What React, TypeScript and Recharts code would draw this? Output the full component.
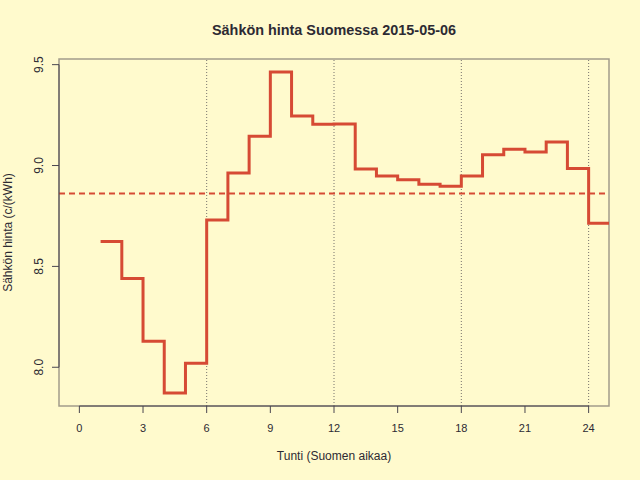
import { LineChart, Line, XAxis, YAxis, ReferenceLine, ReferenceArea } from 'recharts'

const hours = [1, 2, 3, 4, 5, 6, 7, 8, 9, 10, 11, 12, 13, 14, 15, 16, 17, 18, 19, 20, 21, 22, 23, 24]
const prices = [
  8.623, 8.44, 8.129, 7.872, 8.02, 8.73, 8.963, 9.145, 9.464, 9.246, 9.204, 9.206,
  8.983, 8.948, 8.93, 8.907, 8.897, 8.948, 9.054, 9.081, 9.067, 9.117, 8.985, 8.714,
]
const xTicks = [0, 3, 6, 9, 12, 15, 18, 21, 24]
const yTicks = [8, 8.5, 9, 9.5]
const markHours = [6, 12, 18, 24]

const xDomain: [number, number] = [-0.96, 24.96]
const yDomain: [number, number] = [7.808, 9.528]

const FONT = '"Liberation Sans", Arial, sans-serif'
const BG = '#fffacd'
const LINE = '#d64a34'
const INK = '#2d2a33'
const AXIS = '#4a4650'
const BOX = '#a39c8b'

// step line: last hour is carried to the right edge
const data = [
  ...hours.map((h, i) => ({ hour: h, price: prices[i] })),
  { hour: 25, price: prices[prices.length - 1] },
]
const meanPrice = prices.reduce((a, b) => a + b, 0) / prices.length

function YTick({ y, payload }: any) {
  return (
    <text
      transform={`translate(43, ${y}) rotate(-90)`}
      textAnchor="middle"
      fontSize={12}
      fontFamily={FONT}
      fill={INK}
    >
      {payload.value.toFixed(1)}
    </text>
  )
}

export default function App() {
  return (
    <div style={{ position: 'absolute', left: 0, top: 0, width: 640, height: 480, background: BG }}>
      <LineChart
        width={640}
        height={480}
        data={data}
        margin={{ top: 59, right: 31, bottom: 44, left: 0 }}
      >
        <ReferenceArea
          x1={xDomain[0]}
          x2={xDomain[1]}
          y1={yDomain[0]}
          y2={yDomain[1]}
          fill="none"
          stroke={BOX}
          strokeWidth={1.5}
          ifOverflow="visible"
        />
        <XAxis
          dataKey="hour"
          type="number"
          domain={xDomain}
          allowDataOverflow
          ticks={xTicks}
          interval={0}
          tickSize={7}
          tickMargin={11}
          height={30}
          axisLine={false}
          tickLine={{ stroke: AXIS }}
          tick={{ fontSize: 11, fontFamily: FONT, fill: INK }}
        />
        <YAxis
          type="number"
          domain={yDomain}
          allowDataOverflow
          ticks={yTicks}
          interval={0}
          tickSize={7}
          width={59}
          axisLine={false}
          tickLine={{ stroke: AXIS }}
          tick={<YTick />}
        />
        {markHours.map((h) => (
          <ReferenceLine key={h} x={h} stroke="#77726c" strokeDasharray="1 2" />
        ))}
        <Line
          type="stepAfter"
          dataKey="price"
          stroke={LINE}
          strokeWidth={3}
          dot={false}
          activeDot={false}
          isAnimationActive={false}
        />
        <ReferenceLine y={meanPrice} stroke={LINE} strokeWidth={2} strokeDasharray="6 4" />
        <ReferenceLine
          segment={[{ x: xDomain[0], y: 8 }, { x: xDomain[0], y: 9.5 }]}
          stroke={AXIS}
          ifOverflow="visible"
        />
        <ReferenceLine
          segment={[{ x: 0, y: yDomain[0] }, { x: 24, y: yDomain[0] }]}
          stroke={AXIS}
          ifOverflow="visible"
        />
      </LineChart>
      <svg
        width={640}
        height={480}
        style={{ position: 'absolute', left: 0, top: 0, pointerEvents: 'none' }}
        fontFamily={FONT}
        fill={INK}
      >
        <text x={334} y={35} textAnchor="middle" fontSize={14.4} fontWeight="bold">
          Sähkön hinta Suomessa 2015-05-06
        </text>
        <text x={334} y={460} textAnchor="middle" fontSize={12}>
          Tunti (Suomen aikaa)
        </text>
        <text transform="translate(12, 232.5) rotate(-90)" textAnchor="middle" fontSize={12}>
          Sähkön hinta (c/(kWh)
        </text>
      </svg>
    </div>
  )
}
